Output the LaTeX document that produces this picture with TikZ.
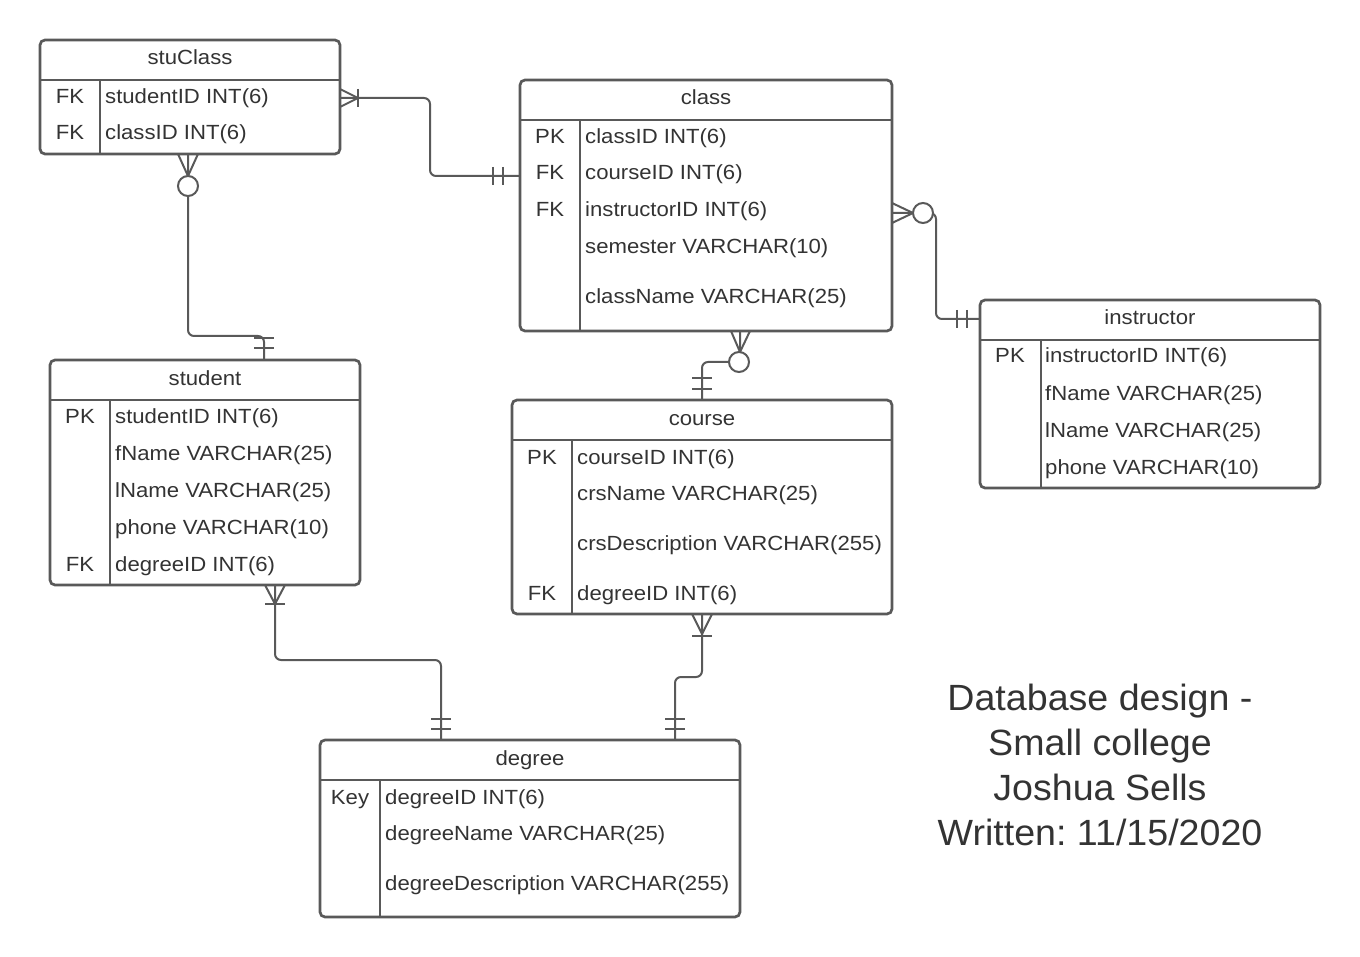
\documentclass[tikz,border=0pt]{standalone}
\usepackage{fontspec}
\setmainfont{Liberation Sans}
\newfontfamily\bodyfont[FakeStretch=1.08]{Liberation Sans}
\newfontfamily\notefont[FakeStretch=1.03]{Liberation Sans}
\frenchspacing
\definecolor{ln}{HTML}{595959}
\definecolor{tx}{HTML}{333333}
\tikzset{
  tblbox/.style={draw=ln, line width=2.7pt, rounded corners=5pt, inner sep=0pt, outer sep=0pt, fill=white},
  sep/.style={draw=ln, line width=2.7pt},
  fld/.style={text=tx, inner sep=0pt, yshift=-1pt, font=\bodyfont\fontsize{20.5}{24}\selectfont},
  conn/.style={draw=ln, line width=2pt, rounded corners=6pt},
  crowmark/.style={draw=ln, line width=2pt},
  zcirc/.style={draw=ln, line width=2pt, fill=white}
}
\begin{document}
\begin{tikzpicture}[x=1pt,y=-1pt]
\useasboundingbox (0,0) rectangle (1360,957);

% ---------- stuClass ----------
\node[tblbox, minimum width=300pt, minimum height=114pt] (stuClass) at (190,97) {};
\draw[sep] (stuClass.west |- 0,80) -- (stuClass.east |- 0,80);
\draw[sep] (100,80) -- (stuClass.south -| 100,0);
\node[fld, anchor=base] (scT) at (190,64) {stuClass};
\node[fld, anchor=base] (scK1) at (70,103) {FK};
\node[fld, anchor=base west] (scF1) at (105,103) {studentID INT(6)};
\node[fld, anchor=base] (scK2) at (70,139) {FK};
\node[fld, anchor=base west] (scF2) at (105,139) {classID INT(6)};

% ---------- class ----------
\node[tblbox, minimum width=372pt, minimum height=251pt] (class) at (706,205.5) {};
\draw[sep] (class.west |- 0,120) -- (class.east |- 0,120);
\draw[sep] (580,120) -- (class.south -| 580,0);
\node[fld, anchor=base] (clT) at (706,104) {class};
\node[fld, anchor=base] (clK1) at (550,143) {PK};
\node[fld, anchor=base west] (clF1) at (585,143) {classID INT(6)};
\node[fld, anchor=base] (clK2) at (550,179) {FK};
\node[fld, anchor=base west] (clF2) at (585,179) {courseID INT(6)};
\node[fld, anchor=base] (clK3) at (550,216) {FK};
\node[fld, anchor=base west] (clF3) at (585,216) {instructorID INT(6)};
\node[fld, anchor=base west] (clF4) at (585,253) {semester VARCHAR(10)};
\node[fld, anchor=base west] (clF5) at (585,303) {className VARCHAR(25)};

% ---------- instructor ----------
\node[tblbox, minimum width=340pt, minimum height=188pt] (instructor) at (1150,394) {};
\draw[sep] (instructor.west |- 0,340) -- (instructor.east |- 0,340);
\draw[sep] (1041,340) -- (instructor.south -| 1041,0);
\node[fld, anchor=base] (inT) at (1150,324) {instructor};
\node[fld, anchor=base] (inK1) at (1010,362) {PK};
\node[fld, anchor=base west] (inF1) at (1045,362) {instructorID INT(6)};
\node[fld, anchor=base west] (inF2) at (1045,399) {fName VARCHAR(25)};
\node[fld, anchor=base west] (inF3) at (1045,436) {lName VARCHAR(25)};
\node[fld, anchor=base west] (inF4) at (1045,473) {phone VARCHAR(10)};

% ---------- student ----------
\node[tblbox, minimum width=310pt, minimum height=225pt] (student) at (205,472.5) {};
\draw[sep] (student.west |- 0,400) -- (student.east |- 0,400);
\draw[sep] (110,400) -- (student.south -| 110,0);
\node[fld, anchor=base] (stT) at (205,384) {student};
\node[fld, anchor=base] (stK1) at (80,422) {PK};
\node[fld, anchor=base west] (stF1) at (115,422) {studentID INT(6)};
\node[fld, anchor=base west] (stF2) at (115,459) {fName VARCHAR(25)};
\node[fld, anchor=base west] (stF3) at (115,496) {lName VARCHAR(25)};
\node[fld, anchor=base west] (stF4) at (115,533) {phone VARCHAR(10)};
\node[fld, anchor=base] (stK5) at (80,570) {FK};
\node[fld, anchor=base west] (stF5) at (115,570) {degreeID INT(6)};

% ---------- course ----------
\node[tblbox, minimum width=380pt, minimum height=214pt] (course) at (702,507) {};
\draw[sep] (course.west |- 0,440) -- (course.east |- 0,440);
\draw[sep] (572,440) -- (course.south -| 572,0);
\node[fld, anchor=base] (coT) at (702,424) {course};
\node[fld, anchor=base] (coK1) at (542,463) {PK};
\node[fld, anchor=base west] (coF1) at (577,463) {courseID INT(6)};
\node[fld, anchor=base west] (coF2) at (577,499) {crsName VARCHAR(25)};
\node[fld, anchor=base west] (coF3) at (577,549) {crsDescription VARCHAR(255)};
\node[fld, anchor=base] (coK4) at (542,599) {FK};
\node[fld, anchor=base west] (coF4) at (577,599) {degreeID INT(6)};

% ---------- degree ----------
\node[tblbox, minimum width=420pt, minimum height=177pt] (degree) at (530,828.5) {};
\draw[sep] (degree.west |- 0,780) -- (degree.east |- 0,780);
\draw[sep] (380,780) -- (degree.south -| 380,0);
\node[fld, anchor=base] (deT) at (530,764) {degree};
\node[fld, anchor=base] (deK1) at (350,803) {Key};
\node[fld, anchor=base west] (deF1) at (385,803) {degreeID INT(6)};
\node[fld, anchor=base west] (deF2) at (385,839) {degreeName VARCHAR(25)};
\node[fld, anchor=base west] (deF3) at (385,889) {degreeDescription VARCHAR(255)};

% ---------- title text ----------
\node[text=tx, inner sep=0pt, anchor=north, align=center, font=\notefont\fontsize{36.5}{45}\selectfont] (note) at (1100,684)
  {Database design -\\Small college\\Joshua Sells\\Written: 11/15/2020};

% ---------- connector endpoints ----------
\coordinate (scE) at (stuClass.east |- 0,98);
\coordinate (clW) at (class.west |- 0,176);
\coordinate (scS) at (stuClass.south -| 188,0);
\coordinate (stN) at (student.north -| 264,0);
\coordinate (clE) at (class.east |- 0,213);
\coordinate (inW) at (instructor.west |- 0,319);
\coordinate (clS) at (class.south -| 740,0);
\coordinate (coN) at (course.north -| 702,0);
\coordinate (stS) at (student.south -| 275,0);
\coordinate (deN1) at (degree.north -| 441,0);
\coordinate (coS) at (course.south -| 702,0);
\coordinate (deN2) at (degree.north -| 675,0);

% 1: stuClass -- class
\draw[conn] (scE) -- (430,98) -- (430,176) -- (clW);
\draw[crowmark] (scE |- 0,89) -- (358,98) -- (scE |- 0,107);
\draw[crowmark] (358,89) -- (358,107);
\draw[crowmark] (493,167) -- (493,185);
\draw[crowmark] (503,167) -- (503,185);

% 2: stuClass -- student
\draw[conn] (scS) -- (188,336) -- (264,336) -- (stN);
\draw[crowmark] (178,154) -- (188,176) -- (198,154);
\node[zcirc, circle, minimum size=20pt, inner sep=0pt] (z2) at (188,186) {};
\draw[crowmark] (254,338) -- (274,338);
\draw[crowmark] (254,348) -- (274,348);

% 3: class -- instructor
\draw[conn] (clE) -- (936,213) -- (936,319) -- (inW);
\draw[crowmark] (clE |- 0,203) -- (913,213) -- (clE |- 0,223);
\node[zcirc, circle, minimum size=20pt, inner sep=0pt] (z3) at (923,213) {};
\draw[crowmark] (957,310) -- (957,328);
\draw[crowmark] (967,310) -- (967,328);

% 4: class -- course
\draw[conn] (clS) -- (740,362) -- (702,362) -- (coN);
\draw[crowmark] (731,331) -- (740,352) -- (750,331);
\node[zcirc, circle, minimum size=20pt, inner sep=0pt] (z4) at (739,362) {};
\draw[crowmark] (692,378) -- (712,378);
\draw[crowmark] (692,389) -- (712,389);

% 5: student -- degree
\draw[conn] (stS) -- (275,660) -- (441,660) -- (deN1);
\draw[crowmark] (265,585) -- (275,604) -- (285,585);
\draw[crowmark] (265,604) -- (285,604);
\draw[crowmark] (431,719) -- (451,719);
\draw[crowmark] (431,729) -- (451,729);

% 6: course -- degree
\draw[conn] (coS) -- (702,677) -- (675,677) -- (deN2);
\draw[crowmark] (692,614) -- (702,634) -- (712,614);
\draw[crowmark] (692,636) -- (712,636);
\draw[crowmark] (665,719) -- (685,719);
\draw[crowmark] (665,729) -- (685,729);
\end{tikzpicture}
\end{document}
